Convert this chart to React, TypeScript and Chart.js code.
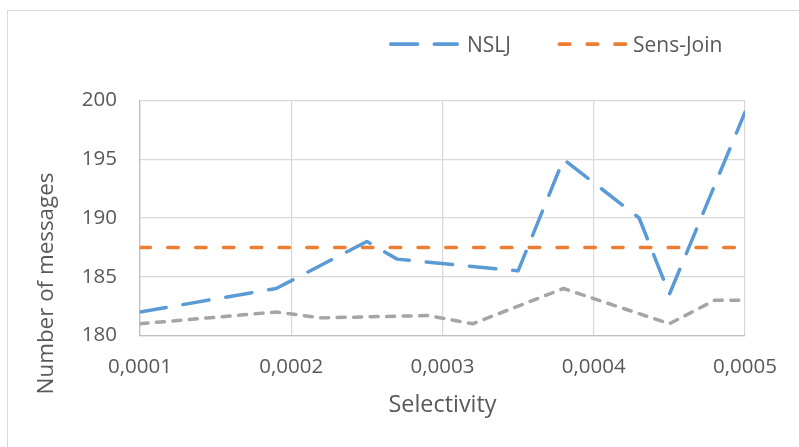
import { useEffect, useRef } from "react";
import { Chart, registerables } from "chart.js";

Chart.register(...registerables);

// Selectivity (x) and number of messages (y) for each join strategy
const nsljX = [0.0001, 0.00019, 0.00025, 0.00027, 0.00035, 0.00038, 0.00043, 0.00045, 0.0005];
const nsljY = [182, 184, 188, 186.5, 185.5, 195, 190, 183.5, 199];

const sensJoinX = [0.0001, 0.0005];
const sensJoinY = [187.5, 187.5];

const thirdX = [0.0001, 0.00019, 0.00022, 0.00029, 0.00032, 0.00038, 0.00045, 0.00048, 0.0005];
const thirdY = [181, 182, 181.5, 181.7, 181, 184, 181, 183, 183];

const xTickValues = [0.0001, 0.0002, 0.0003, 0.0004, 0.0005];
const xTickLabels = ["0,0001", "0,0002", "0,0003", "0,0004", "0,0005"];
const yTickValues = [180, 185, 190, 195, 200];

const FONT = "'Open Sans', 'Noto Sans', sans-serif";
const TEXT = "#595959";

const toPoints = (xs: number[], ys: number[]) => xs.map((x, i) => ({ x, y: ys[i] }));

// Legend entries: sample line start/end and text start
const legendLayout = [
  { dataset: 0, x0: 389, x1: 459, textX: 467 },
  { dataset: 1, x0: 557.5, x1: 627.5, textX: 633 },
];

const overlayPlugin = {
  id: "overlay",
  afterDraw(chart: any) {
    const ctx = chart.ctx as CanvasRenderingContext2D;
    // legend
    ctx.save();
    for (const item of legendLayout) {
      const ds = chart.data.datasets[item.dataset];
      const w = 3.75;
      ctx.beginPath();
      ctx.strokeStyle = ds.borderColor;
      ctx.lineWidth = w;
      ctx.lineCap = "round";
      ctx.setLineDash(ds.borderDash || []);
      ctx.moveTo(item.x0 + w / 2, 44);
      ctx.lineTo(item.x1 - w / 2, 44);
      ctx.stroke();
      ctx.setLineDash([]);
      ctx.fillStyle = TEXT;
      ctx.font = `21px ${FONT}`;
      ctx.textBaseline = "alphabetic";
      ctx.textAlign = "left";
      ctx.fillText(ds.label, item.textX, 51.5);
    }
    ctx.restore();

    // vertical axis title
    ctx.save();
    ctx.translate(53, 283.5);
    ctx.rotate(-Math.PI / 2);
    ctx.fillStyle = TEXT;
    ctx.font = `22.4px ${FONT}`;
    ctx.textAlign = "center";
    ctx.textBaseline = "alphabetic";
    ctx.fillText("Number of messages", 0, 0);
    ctx.restore();
  },
};

export default function App() {
  const canvasRef = useRef<HTMLCanvasElement | null>(null);

  useEffect(() => {
    if (!canvasRef.current) return;
    const chart = new Chart(canvasRef.current, {
      type: "line",
      data: {
        datasets: [
          {
            label: "NSLJ",
            data: toPoints(nsljX, nsljY),
            borderColor: "#5b9bd5",
            borderWidth: 3.5,
            borderDash: [26.5, 17],
            borderCapStyle: "round",
            borderJoinStyle: "round",
            pointRadius: 0,
            tension: 0,
            order: 1,
          },
          {
            label: "Sens-Join",
            data: toPoints(sensJoinX, sensJoinY),
            borderColor: "#ed7d31",
            borderWidth: 3.5,
            borderDash: [10.5, 17.3],
            borderCapStyle: "round",
            borderJoinStyle: "round",
            pointRadius: 0,
            tension: 0,
            order: 2,
          },
          {
            label: "",
            data: toPoints(thirdX, thirdY),
            borderColor: "#a5a5a5",
            borderWidth: 3.5,
            borderDash: [8, 8.5],
            borderCapStyle: "round",
            borderJoinStyle: "round",
            pointRadius: 0,
            tension: 0,
            order: 3,
          },
        ],
      },
      options: {
        animation: false,
        responsive: true,
        maintainAspectRatio: false,
        layout: { padding: { left: 0, right: 54, top: 100.5, bottom: 21.5 } },
        plugins: {
          legend: { display: false },
          tooltip: { enabled: false },
        },
        scales: {
          x: {
            type: "linear",
            min: 0.0001,
            max: 0.0005,
            afterBuildTicks: (scale: any) => {
              scale.ticks = xTickValues.map((value) => ({ value }));
            },
            afterFit: (scale: any) => {
              scale.height = 90;
            },
            ticks: {
              callback: (_v: any, i: number) => xTickLabels[i],
              font: { family: FONT, size: 20.5 },
              color: TEXT,
              padding: 19,
              maxRotation: 0,
            },
            grid: { color: "#d9d9d9", lineWidth: 1.25, drawTicks: false },
            border: { color: "#bfbfbf", width: 1.25 },
            title: {
              display: true,
              text: "Selectivity",
              font: { family: FONT, size: 23.4 },
              color: TEXT,
              padding: { top: 0, bottom: 6.3 },
            },
          },
          y: {
            type: "linear",
            min: 180,
            max: 200,
            afterBuildTicks: (scale: any) => {
              scale.ticks = yTickValues.map((value) => ({ value }));
            },
            afterFit: (scale: any) => {
              scale.width = 140;
            },
            ticks: {
              callback: (v: any) => String(v),
              font: { family: FONT, size: 20.5 },
              color: TEXT,
              padding: 23,
            },
            grid: { color: "#d9d9d9", lineWidth: 1.25, drawTicks: false },
            border: { color: "#bfbfbf", width: 1.25 },
          },
        },
      },
      plugins: [overlayPlugin],
    } as any);
    return () => chart.destroy();
  }, []);

  return (
    <div
      style={{
        position: "fixed",
        left: 0,
        top: 0,
        width: 799,
        height: 447,
        overflow: "hidden",
        background: "#ffffff",
      }}
    >
      <div
        style={{
          position: "absolute",
          left: 7,
          top: 10,
          width: 840,
          height: 480,
          border: "1px solid #d9d9d9",
          boxSizing: "border-box",
        }}
      />
      <div style={{ position: "absolute", left: 0, top: 0, width: 799, height: 447 }}>
        <canvas ref={canvasRef} />
      </div>
    </div>
  );
}
